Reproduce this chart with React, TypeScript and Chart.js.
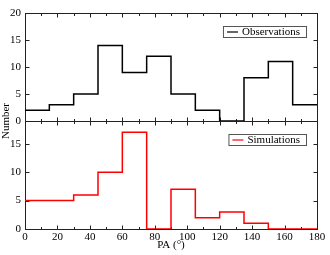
import { useEffect, useRef } from "react";
import { Chart, registerables } from "chart.js";

Chart.register(...registerables);

const binEdges = [0, 15, 30, 45, 60, 75, 90, 105, 120, 135, 150, 165, 180];
const observations = [2, 3, 5, 14, 9, 12, 5, 2, 0, 8, 11, 3];
const simulations = [5, 5, 6, 10, 17, 0, 7, 2, 3, 1, 0, 0];
const xTicks = [0, 20, 40, 60, 80, 100, 120, 140, 160, 180];
const xMinorTicks = [10, 30, 50, 70, 90, 110, 130, 150, 170];
const topYTicks = [0, 5, 10, 15, 20];
const bottomYTicks = [0, 5, 10, 15];
const seriesLabels = ["Observations", "Simulations"];
const seriesColors = ["#000000", "#ff0000"];
const xTitle = "PA (\u00b0)";
const yTitle = "Number";

const FONT = "'Liberation Serif', 'Times New Roman', serif";

function stepPoints(values: number[]) {
  return binEdges.map((e, i) => ({ x: e, y: values[Math.min(i, values.length - 1)] }));
}

const framePlugin = {
  id: "frameTicks",
  beforeDatasetsDraw(chart: any) {
    const ctx = chart.ctx;
    const x = chart.scales.x;
    const panels = [chart.scales.yTop, chart.scales.yBot];
    const yTickSets = [topYTicks, bottomYTicks];
    ctx.save();
    ctx.strokeStyle = "#222";
    ctx.lineWidth = 1;
    const L = Math.round(x.left) + 0.5;
    const R = Math.round(x.right) + 0.5;
    panels.forEach((s: any, pi: number) => {
      const T = Math.round(s.top) + 0.5;
      const B = Math.round(s.bottom) + 0.5;
      ctx.strokeRect(L, T, R - L, B - T);
      ctx.beginPath();
      xTicks.forEach((v) => {
        const px = Math.round(x.getPixelForValue(v)) + 0.5;
        ctx.moveTo(px, T); ctx.lineTo(px, T + 4);
        ctx.moveTo(px, B); ctx.lineTo(px, B - 4);
      });
      xMinorTicks.forEach((v) => {
        const px = Math.round(x.getPixelForValue(v)) + 0.5;
        ctx.moveTo(px, T); ctx.lineTo(px, T + 2.5);
        ctx.moveTo(px, B); ctx.lineTo(px, B - 2.5);
      });
      yTickSets[pi].forEach((v) => {
        const py = Math.round(s.getPixelForValue(v)) + 0.5;
        ctx.moveTo(L, py); ctx.lineTo(L + 4, py);
        ctx.moveTo(R, py); ctx.lineTo(R - 4, py);
      });
      ctx.stroke();
    });
    ctx.restore();
  },
  afterDatasetsDraw(chart: any) {
    const ctx = chart.ctx;
    const x = chart.scales.x;
    const panels = [chart.scales.yTop, chart.scales.yBot];
    ctx.save();
    ctx.font = `11px ${FONT}`;
    ctx.textBaseline = "middle";
    panels.forEach((s: any, i: number) => {
      const label = seriesLabels[i];
      const tw = ctx.measureText(label).width;
      const right = Math.round(x.right) - 11;
      const boxW = tw + 25;
      const left = right - boxW;
      const top = Math.round(s.top) + 13;
      const h = 11;
      ctx.fillStyle = "#fff";
      ctx.fillRect(left, top, boxW, h);
      ctx.strokeStyle = "#555";
      ctx.lineWidth = 1;
      ctx.strokeRect(left + 0.5, top + 0.5, boxW, h);
      ctx.strokeStyle = seriesColors[i];
      ctx.lineWidth = 1.2;
      ctx.beginPath();
      ctx.moveTo(left + 4, top + 6);
      ctx.lineTo(left + 15, top + 6);
      ctx.stroke();
      ctx.fillStyle = "#000";
      ctx.textAlign = "left";
      ctx.fillText(label, left + 19, top + 6.5);
    });
    ctx.fillStyle = "#000";
    ctx.textAlign = "center";
    ctx.fillText(xTitle, (x.left + x.right) / 2, 245);
    ctx.translate(6, (chart.chartArea.top + chart.chartArea.bottom) / 2);
    ctx.rotate(-Math.PI / 2);
    ctx.fillText(yTitle, 0, 0);
    ctx.restore();
  },
};

export default function App() {
  const ref = useRef<HTMLCanvasElement>(null);
  useEffect(() => {
    if (!ref.current) return;
    const font = { family: FONT, size: 11 };
    const chart = new Chart(ref.current, {
      type: "line",
      data: {
        datasets: [
          {
            label: seriesLabels[0],
            data: stepPoints(observations),
            yAxisID: "yTop",
            borderColor: seriesColors[0],
            borderWidth: 1.5,
            pointRadius: 0,
            stepped: "before",
            fill: false,
          },
          {
            label: seriesLabels[1],
            data: stepPoints(simulations),
            yAxisID: "yBot",
            borderColor: seriesColors[1],
            borderWidth: 1.5,
            pointRadius: 0,
            stepped: "before",
            fill: false,
          },
        ],
      },
      options: {
        animation: false,
        responsive: false,
        layout: { padding: { top: 13, right: 13, left: 0, bottom: 0 } },
        plugins: { legend: { display: false }, tooltip: { enabled: false } },
        scales: {
          x: {
            type: "linear",
            min: 0,
            max: 180,
            afterBuildTicks: (s: any) => { s.ticks = xTicks.map((v) => ({ value: v })); },
            ticks: { font, color: "#000", padding: 2, maxRotation: 0, autoSkip: false },
            grid: { display: false, drawTicks: false },
            border: { display: false },
            afterFit: (s: any) => { s.height = 26; },
          },
          yBot: {
            type: "linear",
            position: "left",
            stack: "panels",
            stackWeight: 1,
            min: 0,
            max: 19,
            afterBuildTicks: (s: any) => { s.ticks = bottomYTicks.map((v) => ({ value: v })); },
            ticks: { font, color: "#000", padding: 4, autoSkip: false },
            grid: { display: false, drawTicks: false },
            border: { display: false },
            afterFit: (s: any) => { s.width = 25; },
          },
          yTop: {
            type: "linear",
            position: "left",
            stack: "panels",
            stackWeight: 1,
            min: 0,
            max: 20,
            afterBuildTicks: (s: any) => { s.ticks = topYTicks.map((v) => ({ value: v })); },
            ticks: { font, color: "#000", padding: 4, autoSkip: false },
            grid: { display: false, drawTicks: false },
            border: { display: false },
            afterFit: (s: any) => { s.width = 25; },
          },
        },
      },
      plugins: [framePlugin],
    } as any);
    return () => chart.destroy();
  }, []);
  return (
    <div style={{ position: "fixed", left: 0, top: 0, width: 330, height: 255, background: "#fff" }}>
      <canvas ref={ref} width={330} height={255} style={{ display: "block" }} />
    </div>
  );
}
